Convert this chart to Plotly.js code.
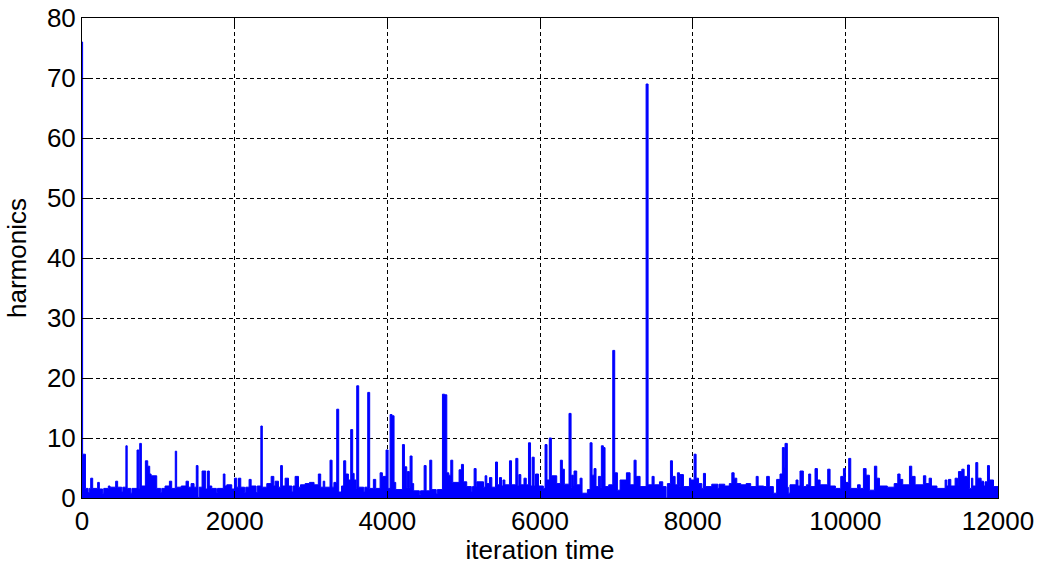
<!DOCTYPE html>
<html><head><meta charset="utf-8">
<script src="https://cdn.plot.ly/plotly-3.0.1.min.js"></script>
<style>html,body{margin:0;padding:0;background:#fff}#chart{width:1043px;height:565px}</style>
</head><body><div id="chart"></div>
<script>
// Each entry: [iteration, harmonics] — value holds until the next iteration listed (column maxima)
const harmonics0to3000 = [[0,76],[8,7.3],[45,1.6],[80,0.9],[95,1.6],[114,3.3],[140,1.6],[205,2.6],[227,1.5],[270,0.8],[285,1.6],[345,2.0],[367,1.8],[441,2.8],[467,1.8],[520,1.0],[535,1.8],[575,8.7],[592,1.6],[640,0.8],[655,1.6],[721,8.0],[745,1.5],[756,9.1],[778,2.0],[830,6.2],[861,5.3],[887,4.0],[905,3.7],[979,1.6],[1030,0.9],[1045,1.6],[1088,2.0],[1145,2.8],[1175,1.6],[1222,7.8],[1240,1.8],[1300,2.0],[1363,2.8],[1394,1.8],[1429,2.4],[1468,1.8],[1497,5.4],[1520,0.1],[1535,1.8],[1573,4.5],[1621,1.5],[1645,4.5],[1668,2.0],[1700,1.6],[1760,0.9],[1775,1.6],[1851,4.0],[1873,2.0],[1897,2.2],[1962,1.5],[1997,3.3],[2028,1.8],[2050,3.3],[2080,1.8],[2130,0.9],[2145,1.8],[2189,3.1],[2216,2.0],[2280,0.9],[2295,2.0],[2343,12.0],[2362,1.8],[2421,2.4],[2478,3.6],[2513,2.0],[2530,2.8],[2574,1.8],[2602,5.4],[2625,2.0],[2661,3.3],[2705,2.0],[2750,1.0],[2765,2.0],[2792,3.6],[2836,1.8],[2862,2.2],[2923,2.4]];
const harmonics3000to6000 = [[2980,2.6],[3040,2.2],[3096,4.0],[3127,1.8],[3160,2.8],[3180,1.8],[3249,6.3],[3276,1.8],[3300,2.6],[3337,14.8],[3363,1.0],[3400,2.0],[3428,6.2],[3455,4.0],[3490,3.0],[3520,11.4],[3546,4.1],[3565,3.0],[3590,1.6],[3599,18.7],[3625,1.8],[3690,1.0],[3705,1.8],[3743,17.6],[3769,1.6],[3817,3.1],[3848,1.6],[3905,4.2],[3935,3.6],[3983,8.0],[4010,1.6],[4036,13.9],[4062,13.7],[4088,2.6],[4110,1.4],[4198,8.9],[4224,5.2],[4254,1.8],[4263,4.4],[4289,1.8],[4298,7.0],[4324,2.4],[4345,1.2],[4420,0.6],[4435,1.2],[4482,5.4],[4508,1.2],[4556,6.3],[4582,1.4],[4640,0.7],[4655,1.4],[4722,17.3],[4750,17.2],[4779,4.2],[4805,3.8],[4831,6.3],[4857,2.6],[4940,4.7],[4971,5.6],[4997,2.7],[5040,1.9],[5100,1.0],[5115,1.9],[5137,4.9],[5163,1.9],[5172,2.7],[5260,1.8],[5281,3.7],[5303,2.4],[5338,3.4],[5369,1.8],[5417,6.0],[5443,2.2],[5469,3.4],[5496,2.0],[5515,3.0],[5540,2.2],[5600,6.2],[5627,2.2],[5683,6.6],[5710,2.0],[5723,3.9],[5749,2.2],[5790,3.3],[5820,2.2],[5849,9.2],[5876,2.0],[5897,6.8],[5924,2.0],[5941,4.0],[5980,2.0]];
const harmonics6000to9000 = [[6044,1.6],[6066,8.9],[6092,3.0],[6122,10.0],[6149,3.7],[6219,2.4],[6267,6.3],[6293,4.8],[6319,2.3],[6380,14.1],[6407,1.8],[6415,3.8],[6437,2.0],[6446,4.5],[6481,2.2],[6525,3.3],[6551,0.8],[6621,1.4],[6656,9.2],[6682,3.8],[6708,4.9],[6734,1.9],[6765,3.6],[6795,1.8],[6804,8.7],[6830,8.4],[6852,1.9],[6900,2.2],[6953,24.6],[6979,4.2],[7014,1.3],[7049,3.0],[7132,4.2],[7180,2.2],[7232,6.3],[7259,3.6],[7311,1.9],[7390,69.0],[7416,2.2],[7468,3.6],[7495,2.2],[7565,2.7],[7608,1.9],[7652,0.0],[7669,2.4],[7709,6.2],[7735,3.6],[7770,2.2],[7800,4.2],[7827,1.9],[7835,3.9],[7879,1.9],[7958,3.3],[7975,3.0],[8019,7.3],[8045,3.3],[8076,2.4],[8120,1.6],[8141,4.1],[8168,1.9],[8250,2.3],[8330,1.6],[8345,2.3],[8420,2.0],[8480,2.4],[8513,4.2],[8543,3.3],[8578,2.4],[8630,2.2],[8700,2.4],[8760,1.9],[8832,3.6],[8858,2.0],[8930,1.9],[8969,3.6]];
const harmonics9000to12000 = [[9004,1.9],[9057,0.8],[9100,3.1],[9144,4.0],[9175,8.4],[9201,5.0],[9210,9.1],[9240,1.8],[9253,0.8],[9275,2.2],[9354,3.0],[9380,2.0],[9406,4.5],[9450,1.9],[9490,2.2],[9520,4.0],[9546,1.9],[9603,4.9],[9634,3.0],[9670,2.2],[9769,4.8],[9800,2.0],[9870,1.6],[9940,3.6],[9975,4.9],[10001,2.6],[10044,6.6],[10071,1.6],[10160,2.2],[10195,1.6],[10237,4.9],[10272,3.8],[10315,1.3],[10381,5.3],[10412,3.3],[10447,2.0],[10550,1.8],[10640,2.4],[10687,4.0],[10717,3.1],[10752,2.2],[10840,5.3],[10870,3.6],[10914,2.2],[11023,3.7],[11054,2.4],[11098,3.3],[11128,2.0],[11200,1.6],[11307,3.0],[11330,2.0],[11351,3.1],[11382,2.0],[11438,3.3],[11469,2.0],[11482,4.4],[11526,4.8],[11556,3.6],[11600,5.5],[11626,1.6],[11652,3.3],[11670,2.0],[11709,5.9],[11735,3.3],[11779,2.8],[11810,2.0],[11830,2.7],[11862,5.4],[11888,3.0],[11941,1.9],[12000,1.9]];

const xTickVals = [0, 2000, 4000, 6000, 8000, 10000, 12000];
const yTickVals = [0, 10, 20, 30, 40, 50, 60, 70, 80];
const xTitleText = 'iteration time';
const yTitleText = 'harmonics';

const pts = harmonics0to3000.concat(harmonics3000to6000, harmonics6000to9000, harmonics9000to12000);
const iterTime = pts.map(p => p[0]);
const harmonics = pts.map(p => p[1]);

const fontFam = '"Liberation Sans", Arial, Helvetica, sans-serif';
const axisCommon = {
  showline: true, linecolor: '#000', linewidth: 1, mirror: 'ticks',
  ticks: 'inside', ticklen: 7, tickcolor: '#000', tickwidth: 1,
  showgrid: true, gridcolor: '#000', gridwidth: 1, griddash: '4px,3px',
  zeroline: false, automargin: false,
  tickfont: {family: fontFam, size: 26, color: '#000'}
};

const layout = {
  width: 1043, height: 565,
  margin: {l: 82, r: 45, t: 18, b: 67, pad: 0},
  paper_bgcolor: '#fff', plot_bgcolor: '#fff',
  showlegend: false,
  font: {family: fontFam, size: 26, color: '#000'},
  xaxis: Object.assign({}, axisCommon, {
    range: [0, 12000], tickvals: xTickVals, ticktext: xTickVals.map(String),
    title: {text: xTitleText, font: {family: fontFam, size: 26, color: '#000'}, standoff: 4}
  }),
  yaxis: Object.assign({}, axisCommon, {
    range: [0, 80], tickvals: yTickVals, ticktext: yTickVals.map(String),
    title: {text: yTitleText, font: {family: fontFam, size: 26, color: '#000'}, standoff: 12}
  })
};

Plotly.newPlot('chart', [{
  type: 'scatter', mode: 'lines', x: iterTime, y: harmonics,
  line: {shape: 'hv', color: '#0000ff', width: 1},
  fill: 'tozeroy', fillcolor: '#0000ff', hoverinfo: 'skip'
}], layout, {staticPlot: true, displayModeBar: false});
</script>
</body></html>
